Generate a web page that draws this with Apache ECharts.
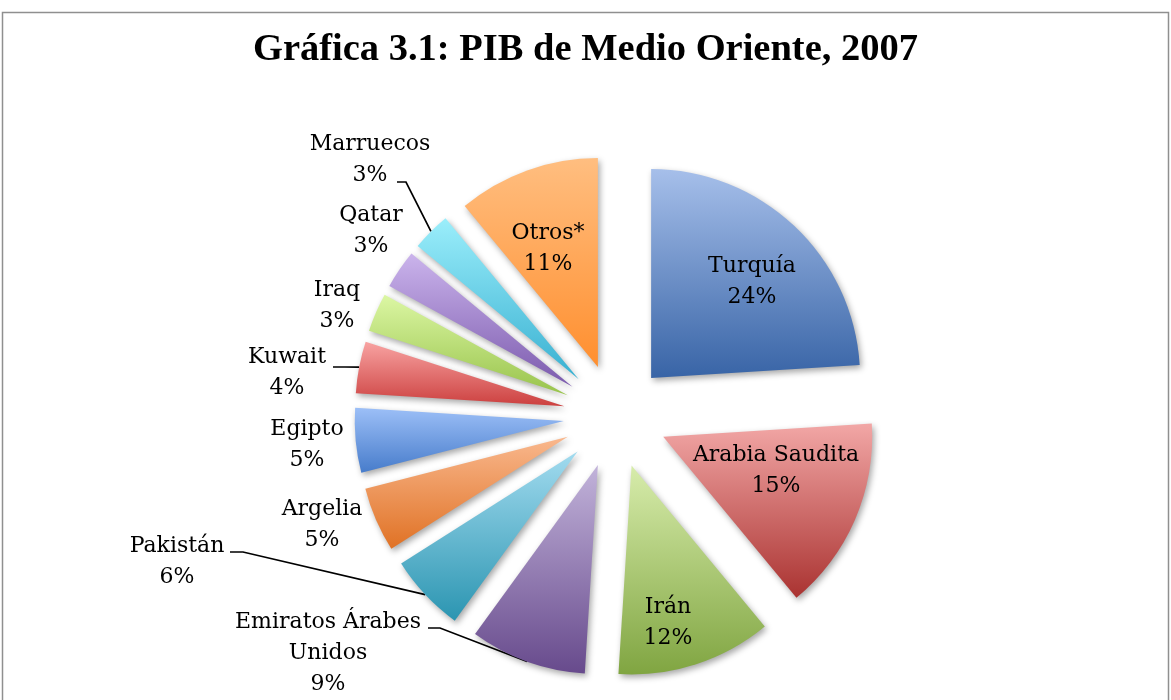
<!DOCTYPE html>
<html>
<head>
<meta charset="utf-8">
<script src="https://cdn.jsdelivr.net/npm/echarts@6/dist/echarts.min.js"></script>
<style>
	html, body { margin: 0; padding: 0; background: #fff; }
	#chart { width: 1171px; height: 700px; }
</style>
</head>
<body>
<div id="chart"></div>
<script>
// 数据
var paises = ['Turquía', 'Arabia Saudita', 'Irán', 'Emiratos Árabes Unidos', 'Pakistán', 'Argelia',
	'Egipto', 'Kuwait', 'Iraq', 'Qatar', 'Marruecos', 'Otros*'];
var porcentajes = [24, 15, 12, 9, 6, 5, 5, 4, 3, 3, 3, 11];

// 颜色 (上 -> 下 渐变)
var colorTop = ['#a6bfea', '#f2a7a6', '#d7ecab', '#c2b3da', '#a2dbef', '#f9b88e',
	'#9cbff7', '#f8a3a2', '#dcf7a4', '#cbb4ec', '#9beefb', '#ffbe80'];
var colorBottom = ['#3864a6', '#aa3331', '#80a541', '#674a8c', '#2b95b1', '#e07225',
	'#477ccb', '#cc403f', '#98c34b', '#7b5aad', '#38b0d1', '#ff8f2f'];

// 饼图几何
var centro = [615.5, 416];
var radio = 209;
var separacion = 52;

// 标签位置 & 引导线
var posEtiquetas = {
	'Turquía': [752, 282],
	'Arabia Saudita': [776, 471],
	'Irán': [668, 623],
	'Otros*': [548, 249],
	'Marruecos': [370, 160],
	'Qatar': [371, 231],
	'Iraq': [337, 306],
	'Kuwait': [287, 373],
	'Egipto': [307, 445],
	'Argelia': [322, 525],
	'Pakistán': [177, 562],
	'Emiratos Árabes Unidos': [328, 653]
};
var lineas = {
	'Marruecos': [[406, 182], [397, 182]],
	'Kuwait': [[345, 367], [333, 367]],
	'Pakistán': [[243, 552], [230, 552]],
	'Emiratos Árabes Unidos': [[440, 628], [428, 628]]
};

var myChart = echarts.init(document.getElementById('chart'));

// 扇区 (分离)
var sectores = paises.map(function (p, i) {
	return {
		name: p,
		value: porcentajes[i],
		selected: true,
		itemStyle: {
			color: {
				type: 'linear', x: 0, y: 0, x2: 0, y2: 1,
				colorStops: [{ offset: 0, color: colorTop[i] }, { offset: 1, color: colorBottom[i] }]
			}
		}
	};
});

// 标签 (透明饼图承载)
var etiquetas = paises.map(function (p, i) {
	return {
		name: p,
		value: porcentajes[i],
		label: { position: lineas[p] ? 'outside' : 'inside' },
		labelLine: { show: !!lineas[p] }
	};
});

myChart.setOption({
	animation: false,
	backgroundColor: '#fff',
	title: {
		text: 'Gráfica 3.1: PIB de Medio Oriente, 2007',
		left: 'center',
		top: 26,
		textStyle: {
			fontFamily: 'Liberation Serif',
			fontWeight: 'bold',
			fontSize: 38.5,
			color: '#000'
		}
	},
	graphic: [{
		type: 'rect',
		silent: true,
		shape: { x: 2.5, y: 12.5, width: 1166, height: 720 },
		style: { fill: 'none', stroke: '#8f8f8f', lineWidth: 1.5 }
	}],
	series: [{
		type: 'pie',
		center: centro,
		radius: radio,
		startAngle: 90,
		clockwise: true,
		selectedMode: 'multiple',
		selectedOffset: separacion,
		data: sectores,
		itemStyle: {
			shadowBlur: 6,
			shadowColor: 'rgba(0,0,0,0.35)',
			shadowOffsetX: 2,
			shadowOffsetY: 3
		},
		emphasis: { disabled: true },
		label: { show: false },
		labelLine: { show: false }
	}, {
		type: 'pie',
		center: centro,
		radius: radio,
		startAngle: 90,
		clockwise: true,
		silent: true,
		avoidLabelOverlap: false,
		data: etiquetas,
		itemStyle: { color: 'rgba(0,0,0,0)', borderWidth: 0 },
		emphasis: { disabled: true },
		label: {
			fontFamily: 'DejaVu Serif',
			fontSize: 22,
			lineHeight: 31,
			color: '#000',
			formatter: function (p) {
				return p.name.replace('Árabes ', 'Árabes\n') + '\n' + p.value + '%';
			}
		},
		labelLine: {
			lineStyle: { color: '#000', width: 1.7 }
		},
		labelLayout: function (params) {
			var nombre = paises[params.dataIndex];
			var pos = posEtiquetas[nombre];
			var res = { x: pos[0], y: pos[1], align: 'center', verticalAlign: 'middle' };
			if (lineas[nombre] && params.labelLinePoints) {
				// 起点随扇区分离外移
				var p0 = params.labelLinePoints[0];
				var vx = p0[0] - centro[0], vy = p0[1] - centro[1];
				var len = Math.sqrt(vx * vx + vy * vy);
				var inicio = [p0[0] + vx / len * separacion, p0[1] + vy / len * separacion];
				res.labelLinePoints = [inicio, lineas[nombre][0], lineas[nombre][1]];
			}
			return res;
		}
	}]
});
</script>
</body>
</html>
